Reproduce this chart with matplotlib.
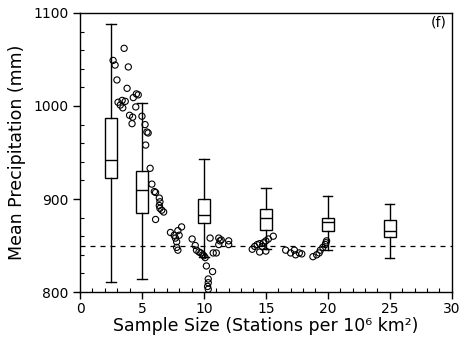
import matplotlib.pyplot as plt
from matplotlib.ticker import MultipleLocator

# box summaries (mm) at each sample size
positions = [2.5, 5, 10, 15, 20, 25]
whislo = [811, 814, 838, 846, 845, 837]
q1 = [923, 885, 874, 867, 866, 859]
med = [942, 910, 883, 880, 875, 866]
q3 = [987, 930, 900, 889, 880, 877]
whishi = [1088, 1003, 943, 912, 903, 895]

# individual points
pts_x = [2.67, 2.83, 3.56, 3.9, 2.98, 3.8, 3.07, 3.4, 3.65, 3.25, 3.45, 4.3, 4.7, 4.55,
         4.5, 4.0, 4.25, 4.2, 5.0, 5.25, 5.4, 5.5, 5.3, 5.66,
         5.8, 6.0, 6.1, 6.4, 6.45, 6.4, 6.45, 6.6, 6.75, 6.1,
         7.3, 7.6, 7.7, 7.9, 8.2, 7.8, 7.8, 7.9, 8.0,
         9.05, 9.3, 9.4, 9.6, 9.75, 9.9, 10.0, 10.1, 10.2, 10.7, 10.35, 10.35, 10.3, 10.35,
         10.5, 10.75, 11.0, 11.2, 11.4, 11.3, 11.2, 12.0, 12.0,
         13.9, 14.1, 14.3, 14.5, 14.7, 14.8, 15.0, 14.5, 15.0, 15.2, 15.6,
         16.6, 17.0, 17.3, 17.4, 17.7, 17.9,
         18.8, 19.1, 19.3, 19.4, 19.6, 19.8, 19.9, 19.85]
pts_y = [1049, 1044, 1062, 1042, 1028, 1019, 1004, 1006, 1005, 1001, 998, 1009, 1012, 1013,
         999, 990, 988, 981, 989, 980, 972, 971, 958, 933,
         916, 908, 907, 901, 897, 893, 890, 888, 886, 878,
         864, 861, 858, 866, 870, 854, 848, 845, 861,
         857, 850, 845, 843, 842, 840, 839, 837, 828, 822, 814, 810, 806, 803,
         858, 842, 842, 858, 856, 855, 851, 855, 851,
         846, 849, 851, 852, 849, 853, 855, 843, 844, 857, 860,
         845, 842, 845, 840, 842, 841,
         838, 840, 842, 845, 848, 851, 855, 853]

ref_level = 850

plt.rcParams['font.family'] = 'DejaVu Sans'
fig = plt.figure(figsize=(4.63, 3.39), dpi=100)
ax = fig.add_axes([0.1728, 0.1386, 0.8028, 0.8231])

stats = []
for i in range(len(positions)):
    stats.append({'whislo': whislo[i], 'q1': q1[i], 'med': med[i],
                  'q3': q3[i], 'whishi': whishi[i], 'fliers': []})

ax.axhline(ref_level, color='black', linestyle=(0, (4, 4)), linewidth=0.9, zorder=1)

ax.scatter(pts_x, pts_y, s=20, facecolors='none', edgecolors='black',
           linewidths=0.8, zorder=2)

ax.bxp(stats, positions=positions, widths=1.0, showfliers=False, patch_artist=True,
       boxprops=dict(facecolor='white', edgecolor='black', linewidth=1.0),
       medianprops=dict(color='black', linewidth=1.0),
       whiskerprops=dict(color='black', linewidth=1.0),
       capprops=dict(color='black', linewidth=1.0),
       capwidths=0.75, manage_ticks=False, zorder=3)

ax.set_xlim(0, 30)
ax.set_ylim(800, 1100)
ax.xaxis.set_major_locator(MultipleLocator(5))
ax.xaxis.set_minor_locator(MultipleLocator(1))
ax.yaxis.set_major_locator(MultipleLocator(100))
ax.yaxis.set_minor_locator(MultipleLocator(20))
ax.tick_params(which='major', direction='out', length=5, width=1, labelsize=10)
ax.tick_params(axis='x', which='major', pad=2)
ax.tick_params(which='minor', direction='in', length=3, width=0.8)
for s in ax.spines.values():
    s.set_linewidth(1.0)

ax.set_xlabel('Sample Size (Stations per 10⁶ km²)', fontsize=12.5, labelpad=1)
ax.set_ylabel('Mean Precipitation (mm)', fontsize=12.5, labelpad=5)
ax.text(0.985, 0.99, '(f)', transform=ax.transAxes, ha='right', va='top', fontsize=10)

fig.savefig('out.png', dpi=100)
